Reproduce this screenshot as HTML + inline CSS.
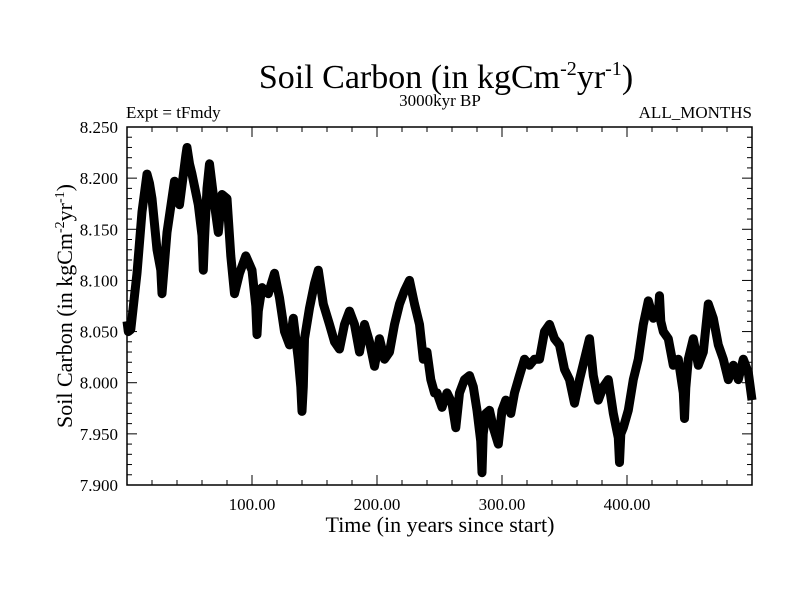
<!DOCTYPE html>
<html><head><meta charset="utf-8"><style>
html,body{margin:0;padding:0;background:#fff;}
svg{display:block;font-family:"Liberation Serif",serif;}
</style></head><body>
<svg width="800" height="600" viewBox="0 0 800 600" id="chart">
<rect x="0" y="0" width="800" height="600" fill="#fff"/>
<text x="446" y="88" font-size="34" text-anchor="middle">Soil Carbon (in kgCm<tspan dy="-13" font-size="20">-2</tspan><tspan dy="13">yr</tspan><tspan dy="-13" font-size="20">-1</tspan><tspan dy="13">)</tspan></text>
<text x="440" y="106" font-size="17" text-anchor="middle">3000kyr BP</text>
<text x="126" y="118" font-size="17">Expt = tFmdy</text>
<text x="752" y="118" font-size="17" text-anchor="end">ALL_MONTHS</text>
<g id="axes"></g>
<g id="series"></g>
<rect x="127" y="127" width="625" height="358" fill="none" stroke="#000" stroke-width="1.5"/>
<text x="440" y="532" font-size="22" text-anchor="middle">Time (in years since start)</text>
<text transform="translate(72,306) rotate(-90)" font-size="22" text-anchor="middle">Soil Carbon (in kgCm<tspan dy="-8" font-size="14">-2</tspan><tspan dy="8">yr</tspan><tspan dy="-8" font-size="14">-1</tspan><tspan dy="8">)</tspan></text>
</svg>
<script>
const years = [0,1,3,6,8,12,16,18,20,24,27,28,32,38,42,47,48,50,52,57,60,61,62,64,66,70,73,76,80,83,86,90,95,100,103,104,105,108,113,118,122,126,130,133,137,139,140,141,142,146,150,153,157,162,166,170,174,178,182,186,190,194,198,202,206,210,214,218,222,226,230,234,237,240,243,246,248,252,256,260,263,266,270,274,277,280,283,284,285,287,290,293,297,300,303,307,310,314,318,322,326,330,334,338,342,346,350,354,358,362,366,370,373,377,381,385,389,393,394,395,397,401,405,409,413,417,421,425,426,427,429,433,437,441,445,446,447,449,453,457,461,465,469,473,477,481,485,489,493,497,500];
const values = [8.060,8.050,8.052,8.085,8.107,8.167,8.204,8.195,8.180,8.130,8.110,8.087,8.147,8.197,8.174,8.222,8.230,8.214,8.204,8.174,8.144,8.110,8.140,8.190,8.214,8.174,8.147,8.184,8.180,8.124,8.087,8.107,8.124,8.110,8.075,8.047,8.070,8.093,8.087,8.107,8.083,8.050,8.037,8.063,8.023,7.996,7.972,7.996,8.043,8.073,8.097,8.110,8.077,8.057,8.040,8.033,8.057,8.070,8.057,8.030,8.057,8.040,8.016,8.043,8.023,8.030,8.057,8.077,8.090,8.100,8.077,8.057,8.023,8.030,8.003,7.990,7.990,7.976,7.990,7.980,7.956,7.990,8.003,8.007,7.996,7.973,7.943,7.912,7.950,7.970,7.973,7.956,7.940,7.973,7.983,7.970,7.990,8.007,8.023,8.017,8.023,8.023,8.050,8.057,8.043,8.037,8.013,8.003,7.980,8.003,8.023,8.043,8.007,7.983,7.996,8.003,7.970,7.946,7.922,7.950,7.956,7.973,8.003,8.023,8.057,8.080,8.063,8.067,8.085,8.060,8.050,8.043,8.017,8.023,7.990,7.965,7.995,8.023,8.043,8.017,8.030,8.077,8.063,8.037,8.023,8.003,8.017,8.003,8.023,8.010,7.983];
const xTicks = [100,200,300,400];
const xTickLabels = ["100.00","200.00","300.00","400.00"];
const yTicks = [7.90,7.95,8.00,8.05,8.10,8.15,8.20,8.25];
const yTickLabels = ["7.900","7.950","8.000","8.050","8.100","8.150","8.200","8.250"];

const X0=127,X1=752,Y0=485,Y1=127,XMIN=0,XMAX=500,YMIN=7.90,YMAX=8.25;
const xs=v=>X0+(v-XMIN)/(XMAX-XMIN)*(X1-X0);
const ys=v=>Y0-(v-YMIN)/(YMAX-YMIN)*(Y0-Y1);
const NS="http://www.w3.org/2000/svg";
const axes=document.getElementById('axes');
function line(x1,y1,x2,y2,name){
  const l=document.createElementNS(NS,'line');
  l.setAttribute('x1',x1);l.setAttribute('y1',y1);l.setAttribute('x2',x2);l.setAttribute('y2',y2);
  l.setAttribute('stroke','#000');l.setAttribute('stroke-width','1');
  
  
  axes.appendChild(l);
}
function txt(x,y,s,anchor,name){
  const t=document.createElementNS(NS,'text');
  t.setAttribute('x',x);t.setAttribute('y',y);t.setAttribute('font-size','17');
  t.setAttribute('text-anchor',anchor);t.textContent=s;
  
  
  axes.appendChild(t);
}
for(let v=20;v<XMAX;v+=20){
  const major=v%100===0, len=major?10:5, x=xs(v);
  line(x,Y0,x,Y0-len,'x-tick');
  line(x,Y1,x,Y1+len,'x-tick-top');
}
xTicks.forEach((v,i)=>txt(xs(v),Y0+25,xTickLabels[i],'middle','x-tick-label'));
for(let k=1;k<35;k++){
  const v=YMIN+k*0.01, major=k%5===0, len=major?10:5, y=ys(v);
  line(X0,y,X0+len,y,'y-tick');
  line(X1,y,X1-len,y,'y-tick-right');
}
yTicks.forEach((v,i)=>txt(X0-9,ys(v)+6,yTickLabels[i],'end','y-tick-label'));

const g=document.getElementById('series');
let d='';
years.forEach((yr,i)=>{d+=(i?'L':'M')+xs(yr).toFixed(1)+','+ys(values[i]).toFixed(1);});
const band=document.createElementNS(NS,'path');
band.setAttribute('d',d);band.setAttribute('fill','none');band.setAttribute('stroke','#000');
band.setAttribute('stroke-width','9');band.setAttribute('stroke-linejoin','round');


g.appendChild(band);
const ln=document.createElementNS(NS,'path');
ln.setAttribute('d',d);ln.setAttribute('fill','none');ln.setAttribute('stroke','#000');
ln.setAttribute('stroke-width','2');


g.appendChild(ln);
</script>
</body></html>
